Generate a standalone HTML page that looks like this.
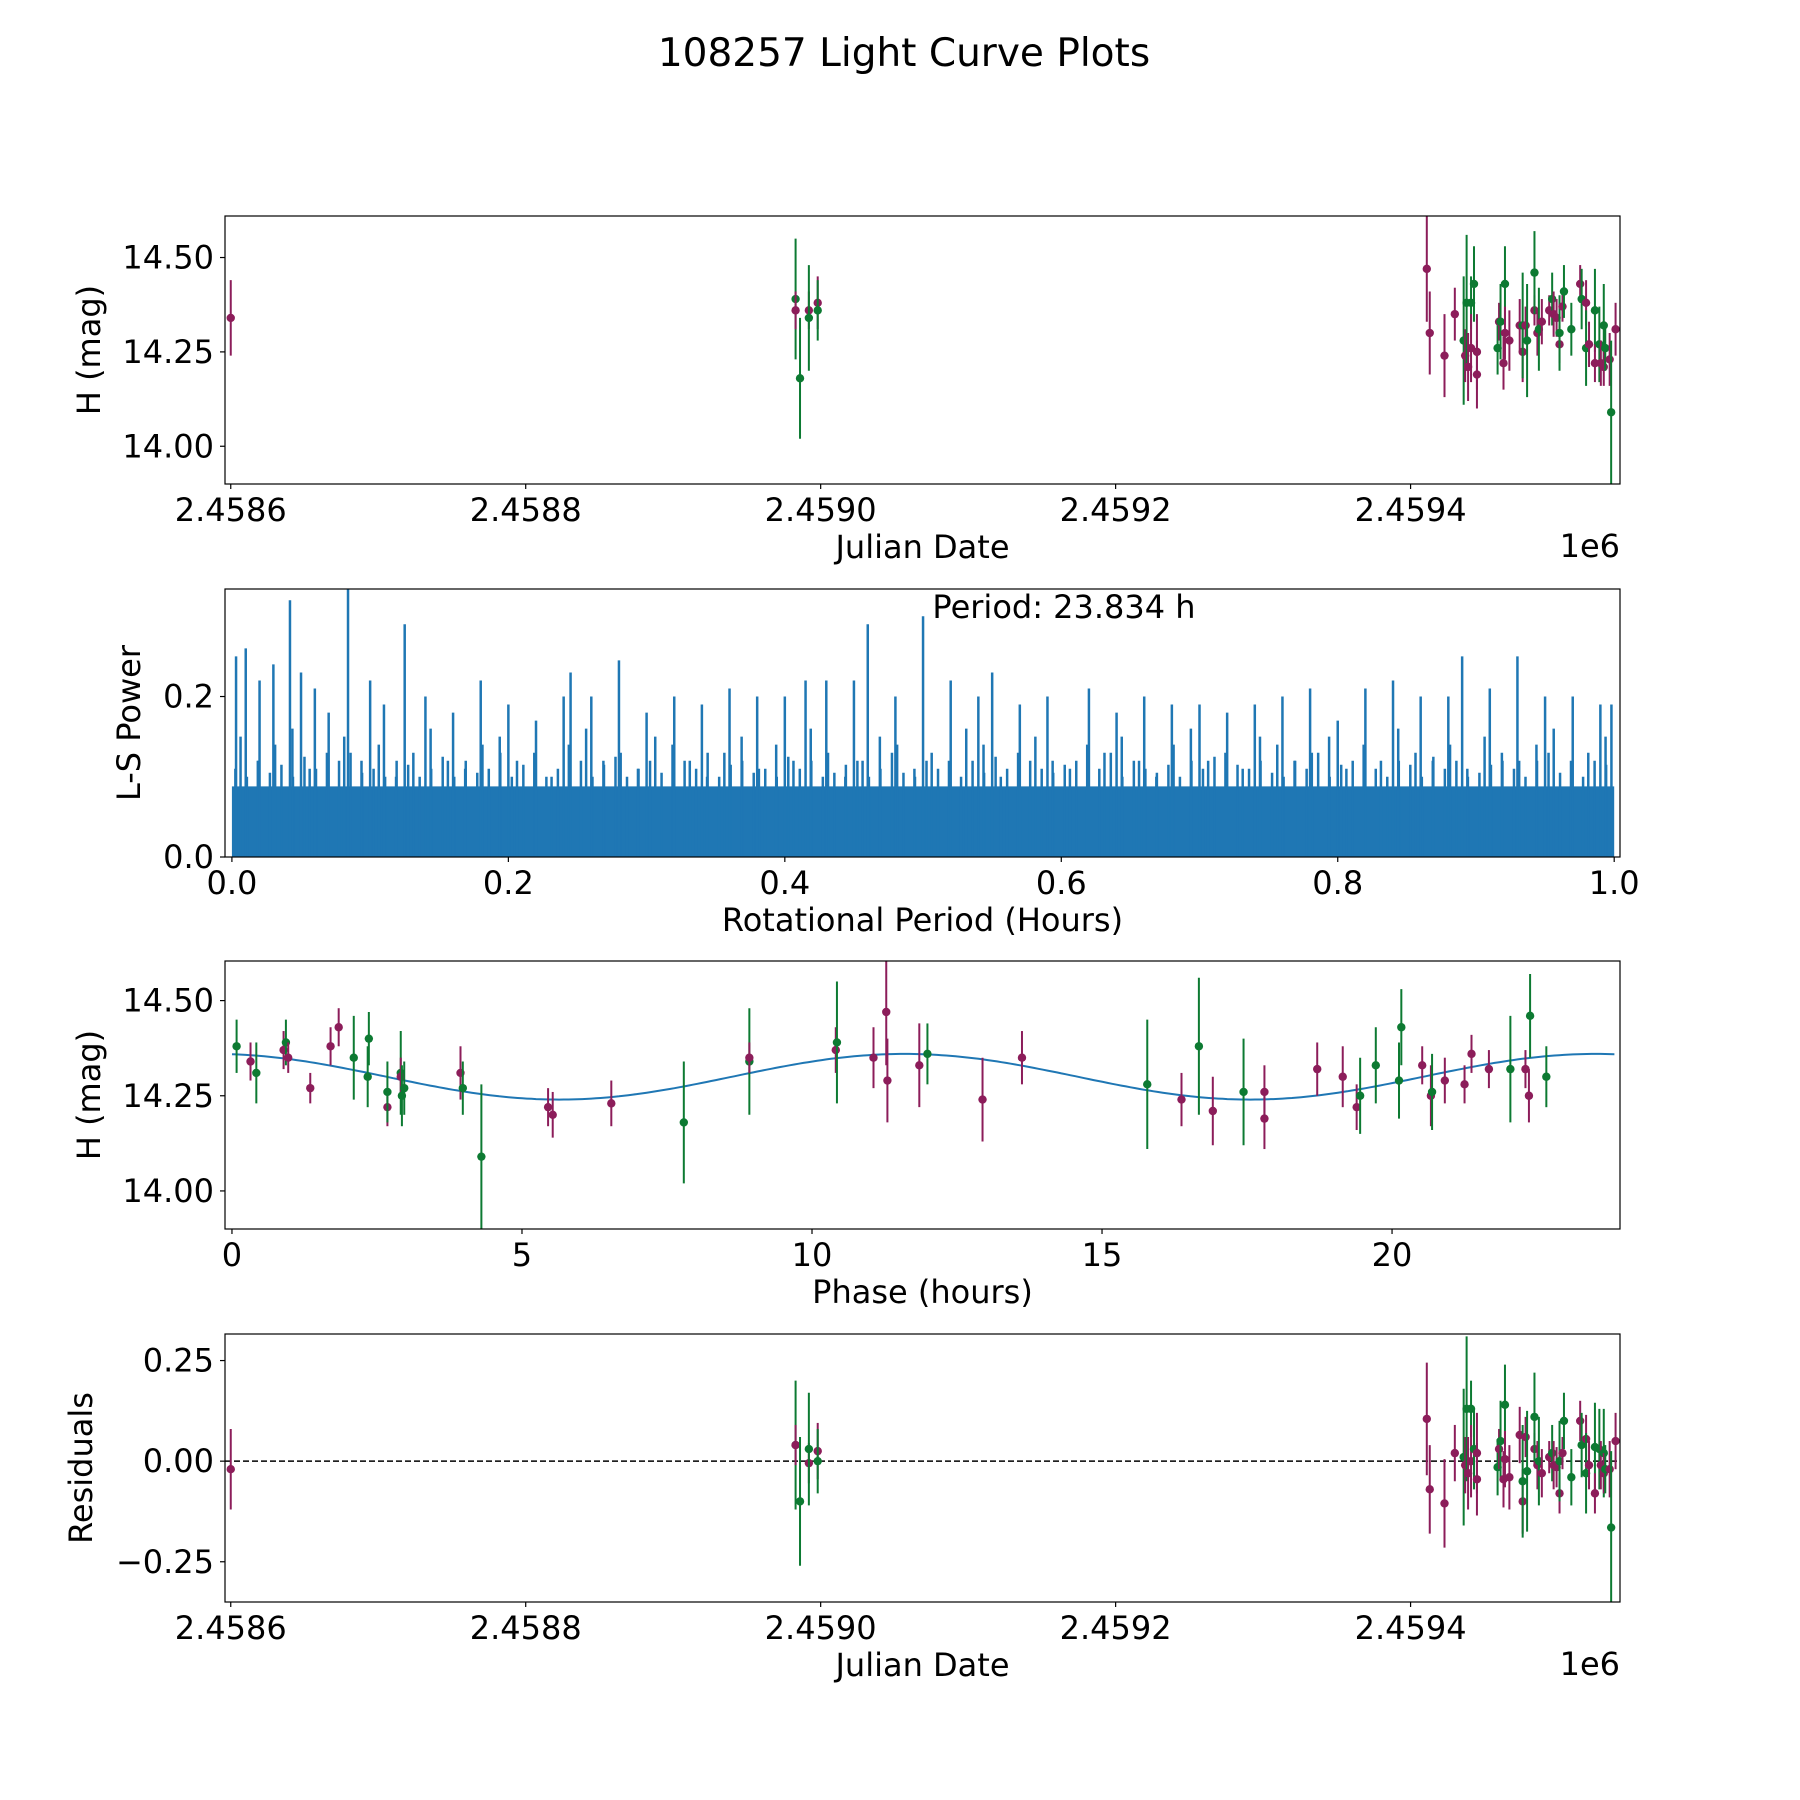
<!DOCTYPE html>
<html><head><meta charset="utf-8"><style>
html,body{margin:0;padding:0;background:#fff;}
svg{display:block;font-family:"DejaVu Sans","Liberation Sans",sans-serif;}
</style></head><body>
<svg id="fig" width="1800" height="1800" viewBox="0 0 1800 1800">
<text x="904" y="66" font-size="39" text-anchor="middle">108257 Light Curve Plots</text>
</svg>
<script>
// ---- data ----
const JD0 = 2458600;
const lcX = [0,383,383,386,392,392,398,398,811,813,823,830,836,837,838,839,841,841,843,845,845,859,860,861,863,864,864,867,874,876,876,878,879,884,884,886,887,889,894,896,897,899,901,901,903,904,909,915,916,919,919,921,925,925,928,929,931,931,932,935,936,939];
const lcY = [14.34,14.39,14.36,14.18,14.36,14.34,14.38,14.36,14.47,14.30,14.24,14.35,14.28,14.24,14.38,14.21,14.38,14.26,14.43,14.19,14.25,14.26,14.33,14.33,14.22,14.43,14.30,14.28,14.32,14.25,14.32,14.32,14.28,14.36,14.46,14.30,14.31,14.33,14.36,14.39,14.35,14.34,14.27,14.30,14.37,14.41,14.31,14.43,14.39,14.38,14.26,14.27,14.36,14.22,14.27,14.22,14.32,14.21,14.26,14.23,14.09,14.31];
const lcE = [0.1,0.16,0.05,0.16,0.05,0.14,0.07,0.08,0.14,0.11,0.11,0.07,0.17,0.07,0.18,0.09,0.07,0.09,0.1,0.09,0.1,0.07,0.05,0.1,0.07,0.1,0.07,0.08,0.07,0.08,0.14,0.05,0.15,0.04,0.11,0.06,0.11,0.06,0.04,0.07,0.06,0.05,0.05,0.1,0.04,0.07,0.07,0.05,0.08,0.06,0.1,0.06,0.11,0.05,0.1,0.06,0.11,0.05,0.06,0.07,0.19,0.07];
const lcC = ("m"+"gmgmgmg"+"mmmm"+"gmgmgmgmm"+"gmgmgmm"+"mmgmgmgmgmm"+"gmmmgmggmgmgmgmgmgmgmgm").split("");
const resY = [-0.02,0.04,0.04,-0.10,-0.005,0.03,0.025,0.0,0.105,-0.07,-0.105,0.02,0.01,-0.01,0.13,-0.03,0.13,0.0,0.03,-0.045,0.02,-0.015,0.03,0.05,-0.045,0.14,0.005,-0.04,0.065,-0.10,-0.05,0.06,-0.025,0.03,0.11,-0.01,0.0,-0.03,0.01,0.02,-0.01,-0.015,-0.08,0.0,0.02,0.10,-0.04,0.10,0.04,0.055,-0.03,-0.01,0.035,-0.08,0.03,-0.01,0.02,-0.03,-0.02,-0.02,-0.165,0.05];
const phX = [0.08,0.32,0.42,0.89,0.93,0.97,1.35,1.70,1.84,2.10,2.36,2.34,2.68,2.68,2.91,2.91,2.93,2.97,3.94,3.98,4.30,5.45,5.53,6.54,7.79,8.92,8.92,10.41,10.43,11.06,11.28,11.30,11.85,11.99,12.94,13.62,15.78,16.37,16.67,16.91,17.44,17.80,17.80,18.71,19.15,19.39,19.45,19.72,20.12,20.16,20.52,20.67,20.69,20.91,21.25,21.37,21.67,22.04,22.30,22.36,22.38,22.66];
const phY = [14.38,14.34,14.31,14.37,14.39,14.35,14.27,14.38,14.43,14.35,14.40,14.30,14.22,14.26,14.31,14.30,14.25,14.27,14.31,14.27,14.09,14.22,14.20,14.23,14.18,14.34,14.35,14.37,14.39,14.35,14.47,14.29,14.33,14.36,14.24,14.35,14.28,14.24,14.38,14.21,14.26,14.26,14.19,14.32,14.30,14.22,14.25,14.33,14.29,14.43,14.33,14.25,14.26,14.29,14.28,14.36,14.32,14.32,14.32,14.25,14.46,14.30];
const phE = [0.07,0.05,0.08,0.05,0.06,0.04,0.04,0.05,0.05,0.11,0.07,0.08,0.05,0.08,0.11,0.05,0.08,0.07,0.07,0.07,0.19,0.05,0.06,0.06,0.16,0.14,0.04,0.06,0.16,0.08,0.14,0.11,0.11,0.08,0.11,0.07,0.17,0.07,0.18,0.09,0.14,0.07,0.08,0.07,0.08,0.06,0.1,0.1,0.1,0.1,0.05,0.08,0.1,0.06,0.05,0.05,0.05,0.14,0.05,0.07,0.11,0.08];
const phC = ("gmgmgmmmm"+"ggg"+"mgg"+"mgg"+"mgg"+"mmm"+"ggm"+"mgmmmmg"+"mmgmgmg"+"mmmmm"+"gggg"+"mmg"+"mmmm"+"gmmgg").split("");
const modelMean = 14.30, modelAmp = 0.06, modelPeak = 11.6, modelHalfPeriod = 11.917, period = 23.834;
const pkX = [0.003,0.01,0.02,0.03,0.042,0.05,0.06,0.07,0.084,0.1,0.11,0.125,0.14,0.16,0.18,0.2,0.22,0.24,0.245,0.26,0.28,0.3,0.32,0.34,0.36,0.38,0.4,0.415,0.43,0.45,0.46,0.48,0.5,0.52,0.54,0.55,0.57,0.59,0.62,0.64,0.66,0.68,0.7,0.72,0.74,0.76,0.78,0.8,0.82,0.84,0.86,0.88,0.89,0.91,0.93,0.95,0.97,0.99,0.998];
const pkY = [0.25,0.26,0.22,0.24,0.32,0.23,0.21,0.18,0.34,0.22,0.19,0.29,0.2,0.18,0.22,0.19,0.17,0.2,0.23,0.2,0.245,0.18,0.2,0.19,0.21,0.2,0.2,0.22,0.22,0.22,0.29,0.2,0.3,0.22,0.2,0.23,0.19,0.2,0.21,0.18,0.2,0.19,0.19,0.18,0.19,0.2,0.21,0.17,0.21,0.22,0.2,0.2,0.25,0.21,0.25,0.2,0.2,0.19,0.19];
const midY = [0.15,0.12,0.14,0.16,0.11,0.13,0.15,0.12,0.14,0.1,0.13,0.16,0.12,0.11,0.14,0.15,0.12,0.13,0.1,0.14,0.16,0.12,0.13,0.11,0.15,0.14,0.12,0.1,0.13,0.15,0.11,0.14,0.12,0.16,0.13,0.1,0.12,0.15,0.14,0.11,0.13,0.12,0.16,0.14,0.1,0.13,0.15,0.12,0.11,0.14,0.13,0.15,0.12,0.1,0.14,0.16,0.12,0.13,0.11,0.15,0.14,0.12,0.13,0.15,0.11,0.14,0.12,0.16,0.13,0.12,0.14,0.11,0.15,0.13,0.12,0.14,0.16,0.12,0.13,0.15];
const grassY = [0.11,0.1,0.12,0.105,0.115,0.1,0.125,0.11,0.1,0.12,0.13,0.105,0.11,0.1,0.12,0.115,0.1,0.11,0.125,0.1,0.12,0.105,0.11,0.13,0.1,0.115,0.12,0.1,0.11,0.105,0.12,0.1,0.115,0.125,0.1,0.11,0.12,0.105,0.1,0.12,0.11,0.13,0.1,0.115,0.12,0.105,0.11,0.1,0.125,0.11,0.12,0.1,0.105,0.115,0.12,0.1,0.11,0.13,0.105,0.1,0.12,0.11,0.115,0.1,0.12,0.105,0.125,0.11,0.1,0.12,0.11,0.105,0.115,0.12,0.1,0.11,0.13,0.1,0.12,0.11,0.105,0.115,0.1,0.12,0.11,0.125,0.1,0.115,0.11,0.12,0.105,0.1,0.12,0.11,0.13,0.1,0.115,0.12,0.105,0.11,0.1,0.12,0.115,0.1,0.125,0.11,0.12,0.1,0.105,0.115,0.12,0.11,0.1,0.12,0.13,0.105,0.11,0.1,0.12,0.115];
const baseY = 0.088;
const xtJD = [2458600,2458800,2459000,2459200,2459400];
const xtJDLab = ["2.4586","2.4588","2.4590","2.4592","2.4594"];
const ytH = [14.0,14.25,14.5];
const ytHLab = ["14.00","14.25","14.50"];

// ---- helpers ----
const NS="http://www.w3.org/2000/svg";
const svg=document.getElementById('fig');
function el(tag,attrs,parent){const e=document.createElementNS(NS,tag);for(const k in attrs)e.setAttribute(k,attrs[k]);(parent||svg).appendChild(e);return e;}
const COL={m:"#8c1d5a",g:"#0d7a32"};
const FS=32;
const L0=225,R0=1620;
function lin(d0,d1,r0,r1){return v=>r0+(v-d0)*(r1-r0)/(d1-d0);}

function axes(name,L,T,R,B,xd,yd,xt,xtl,yt,ytl,xlabel,ylabel,ylabX){
  const g=el('g',{});
  
  
  const sx=lin(xd[0],xd[1],L,R), sy=lin(yd[0],yd[1],B,T);
  xt.forEach((v,i)=>{const x=sx(v);el('line',{x1:x,x2:x,y1:B,y2:B+5,stroke:'#000','stroke-width':1.2},g);
    const t=el('text',{x:x,y:B+37,'font-size':FS,'text-anchor':'middle'},g);t.textContent=xtl[i];
    
    });
  yt.forEach((v,i)=>{const y=sy(v);el('line',{x1:L-5,x2:L,y1:y,y2:y,stroke:'#000','stroke-width':1.2},g);
    const t=el('text',{x:L-11,y:y+11,'font-size':FS,'text-anchor':'end'},g);t.textContent=ytl[i];
    
    });
  const xl=el('text',{x:(L+R)/2,y:B+74,'font-size':FS,'text-anchor':'middle'},g);xl.textContent=xlabel;
  
  
  const yl=el('text',{x:ylabX,y:(T+B)/2,'font-size':FS,'text-anchor':'middle',transform:`rotate(-90 ${ylabX} ${(T+B)/2})`},g);yl.textContent=ylabel;
  
  
  const clipId=name+'-clip';
  const cp=el('clipPath',{id:clipId},g);el('rect',{x:L,y:T,width:R-L,height:B-T},cp);
  const plot=el('g',{'clip-path':`url(#${clipId})`},g);
  return {g,sx,sy,plot,frame:()=>el('rect',{x:L,y:T,width:R-L,height:B-T,fill:'none',stroke:'#000','stroke-width':1.2},g)};
}
function errpts(ax,xs,ys,es,cs,nm){
  xs.forEach((xv,i)=>{const x=ax.sx(xv),y=ax.sy(ys[i]),c=COL[cs[i]];
    const e=el('g',{},ax.plot);
    
    
    el('line',{x1:x,x2:x,y1:ax.sy(ys[i]-es[i]),y2:ax.sy(ys[i]+es[i]),stroke:c,'stroke-width':2},e);
    el('circle',{cx:x,cy:y,r:4.2,fill:c},e);});
}

// panel 1
const a1=axes('light-curve-panel',L0,216,R0,484,[-3.9,942],[13.90,14.61],xtJD.map(v=>v-JD0),xtJDLab,ytH,ytHLab,'Julian Date','H (mag)',100);
errpts(a1,lcX,lcY,lcE,lcC,'lc');a1.frame();
let o=el('text',{x:R0,y:557,'font-size':FS,'text-anchor':'end'});o.textContent='1e6';



// panel 2
const a2=axes('periodogram-panel',L0,589,R0,857,[-0.005,1.0042],[0,0.334],[0,0.2,0.4,0.6,0.8,1.0],["0.0","0.2","0.4","0.6","0.8","1.0"],[0,0.2],["0.0","0.2"],'Rotational Period (Hours)','L-S Power',140);
let bf=el('rect',{x:a2.sx(0),y:a2.sy(baseY),width:a2.sx(1)-a2.sx(0),height:a2.sy(0)-a2.sy(baseY),fill:'#1f77b4'},a2.plot);


grassY.forEach((v,i)=>{const x=a2.sx((i+0.3)/grassY.length);const l=el('line',{x1:x,x2:x,y1:a2.sy(0),y2:a2.sy(v),stroke:'#1f77b4','stroke-width':2.5},a2.plot);
  
  });
midY.forEach((v,i)=>{const x=a2.sx((i+0.5)/midY.length);const l=el('line',{x1:x,x2:x,y1:a2.sy(0),y2:a2.sy(v),stroke:'#1f77b4','stroke-width':2.5},a2.plot);
  
  });
pkX.forEach((v,i)=>{const x=a2.sx(v);const l=el('line',{x1:x,x2:x,y1:a2.sy(0),y2:a2.sy(pkY[i]),stroke:'#1f77b4','stroke-width':2.5},a2.plot);
  
  });
a2.frame();
o=el('text',{x:1064,y:618,'font-size':FS,'text-anchor':'middle'});o.textContent='Period: '+period.toFixed(3)+' h';



// panel 3
const a3=axes('phase-panel',L0,961,R0,1229,[-0.12,23.93],[13.90,14.604],[0,5,10,15,20],["0","5","10","15","20"],ytH,ytHLab,'Phase (hours)','H (mag)',100);
let d='';for(let i=0;i<=300;i++){const t=period*i/300;const v=modelMean+modelAmp*Math.cos(2*Math.PI*(t-modelPeak)/modelHalfPeriod);d+=(i?'L':'M')+a3.sx(t).toFixed(1)+' '+a3.sy(v).toFixed(1);}
o=el('path',{d:d,fill:'none',stroke:'#1f77b4','stroke-width':2},a3.plot);


errpts(a3,phX,phY,phE,phC,'phase');a3.frame();

// panel 4
const a4=axes('residuals-panel',L0,1334,R0,1602,[-3.9,942],[-0.35,0.316],xtJD.map(v=>v-JD0),xtJDLab,[-0.25,0,0.25],["\u22120.25","0.00","0.25"],'Julian Date','Residuals',92);
o=el('line',{x1:L0,x2:R0,y1:a4.sy(0),y2:a4.sy(0),stroke:'#000','stroke-width':1.5,'stroke-dasharray':'6,3'},a4.plot);


errpts(a4,lcX,resY,lcE,lcC,'residual');a4.frame();
o=el('text',{x:R0,y:1675,'font-size':FS,'text-anchor':'end'});o.textContent='1e6';


</script>
</body></html>
